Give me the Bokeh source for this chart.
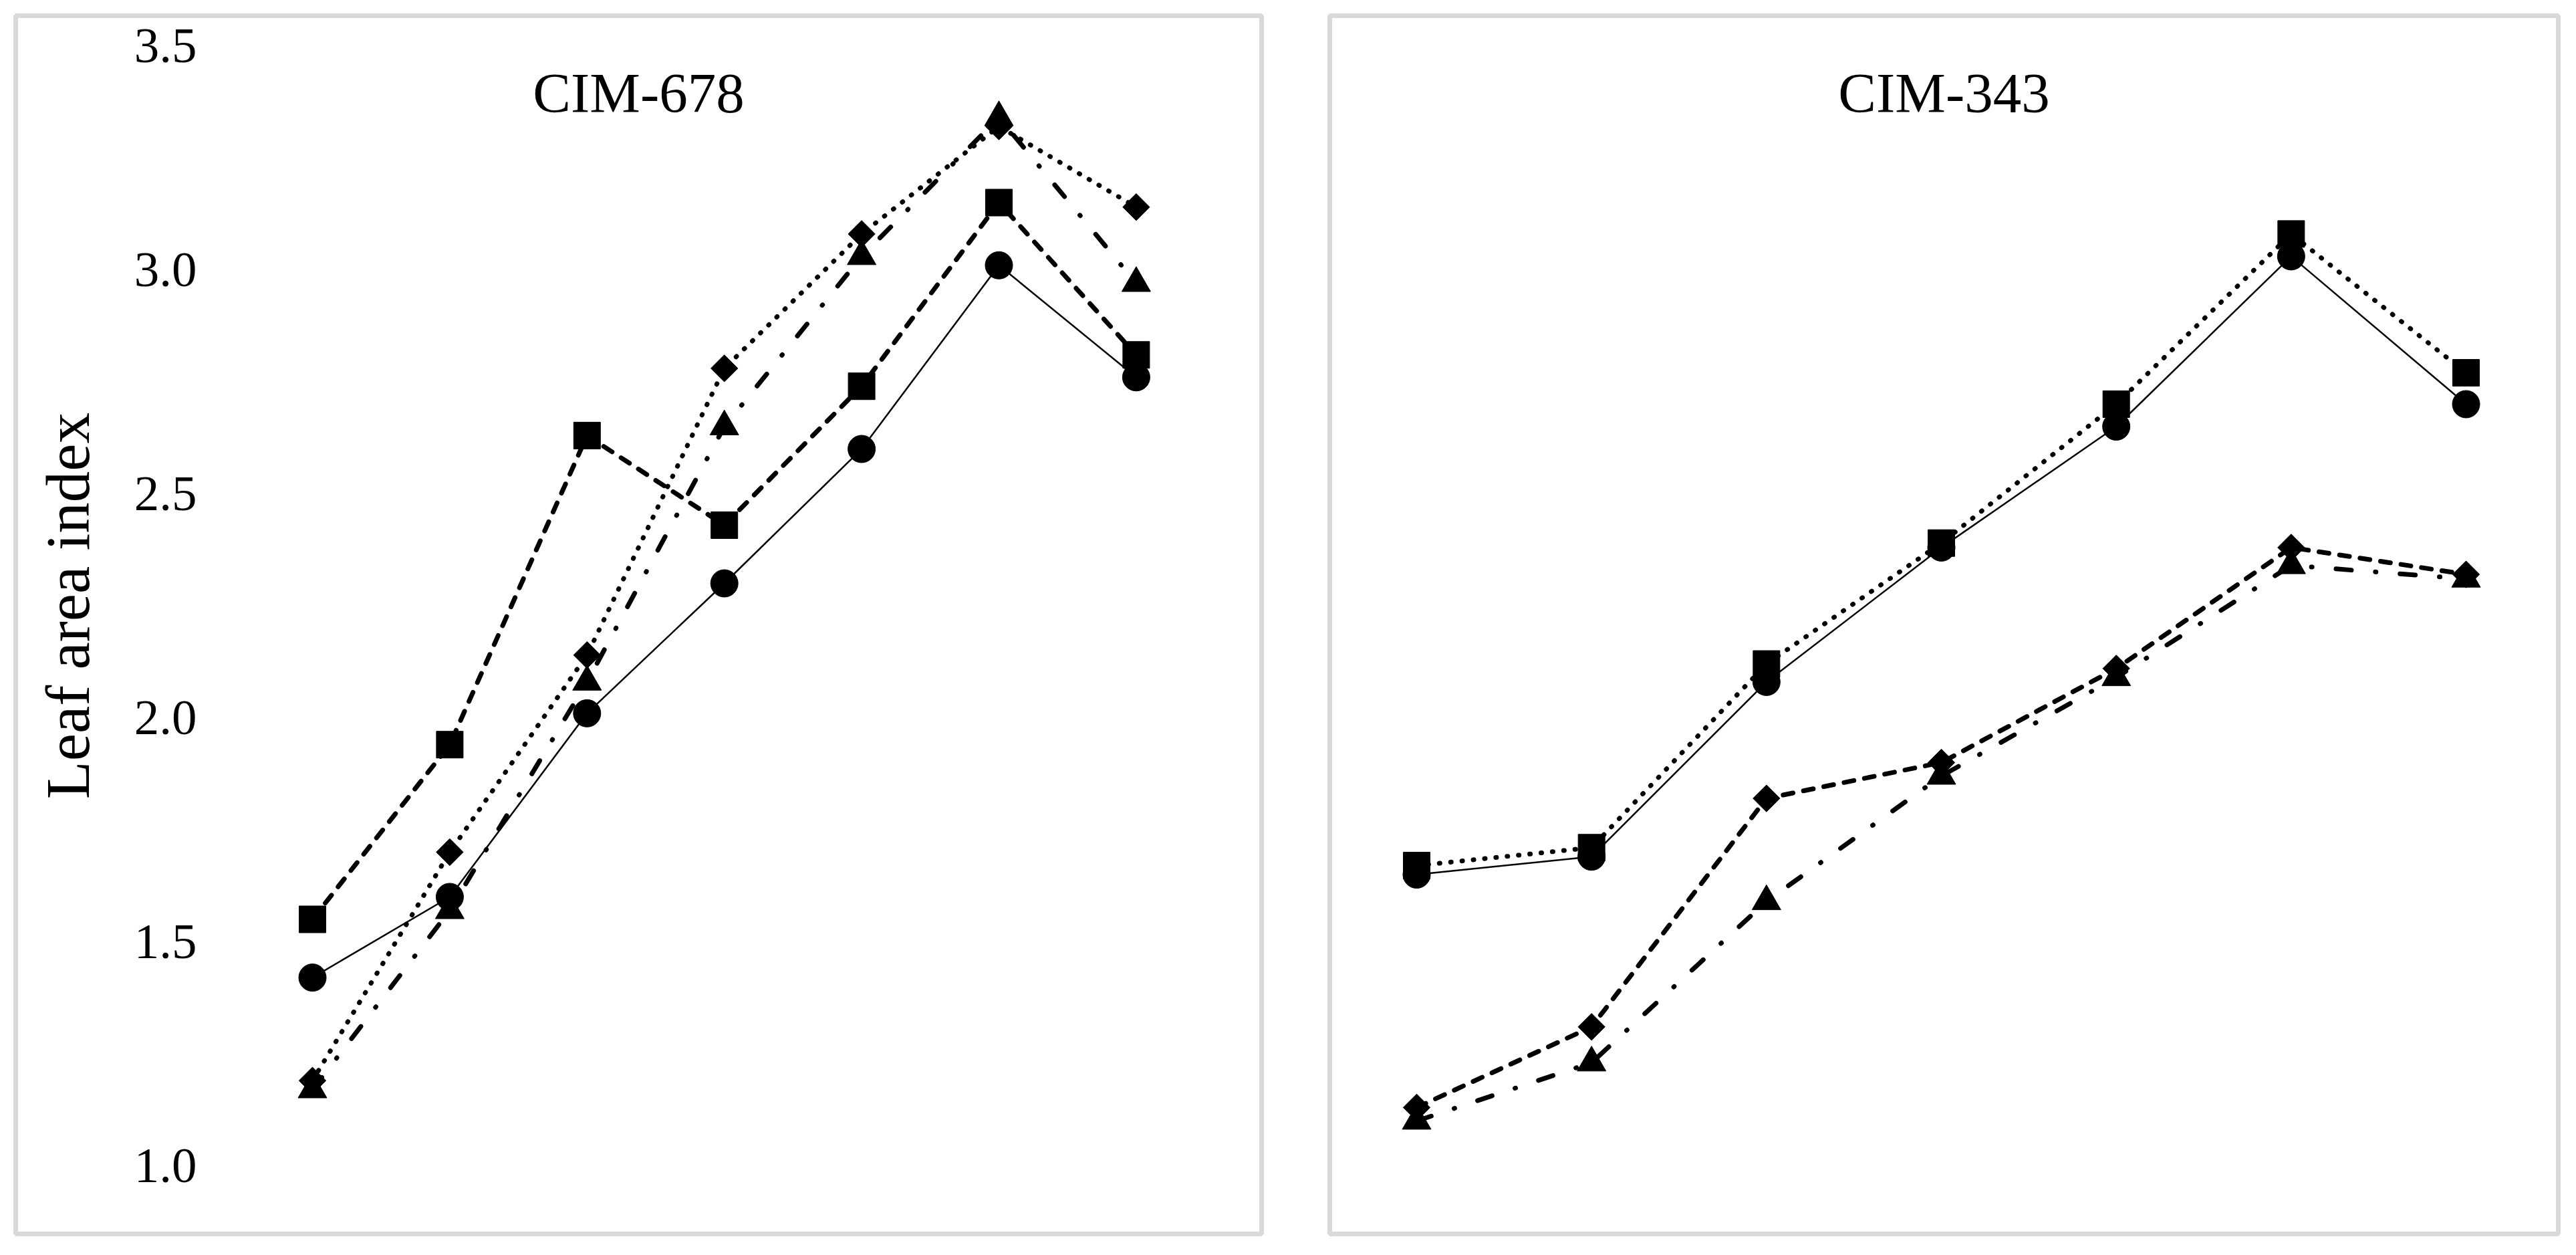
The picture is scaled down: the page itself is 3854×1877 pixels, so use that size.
import math
from bokeh.plotting import figure
from bokeh.layouts import row
from bokeh.models import Range1d, LinearAxis, Label, FixedTicker, NumeralTickFormatter
from bokeh.embed import file_html
from bokeh.resources import INLINE

# ---------------- data ----------------
stages = [1, 2, 3, 4, 5, 6, 7]
y_ticks = [1.0, 1.5, 2.0, 2.5, 3.0, 3.5]
y_label = "Leaf area index"
titles = ["CIM-678", "CIM-343"]

cim678_circle = [1.42, 1.60, 2.01, 2.30, 2.60, 3.01, 2.76]
cim678_square = [1.55, 1.94, 2.63, 2.43, 2.74, 3.15, 2.81]
cim678_diamond = [1.19, 1.70, 2.14, 2.78, 3.08, 3.32, 3.14]
cim678_triangle = [1.17, 1.57, 2.08, 2.65, 3.03, 3.34, 2.97]

cim343_circle = [1.65, 1.69, 2.08, 2.38, 2.65, 3.03, 2.70]
cim343_square = [1.67, 1.71, 2.12, 2.39, 2.70, 3.08, 2.77]
cim343_diamond = [1.13, 1.31, 1.82, 1.90, 2.11, 2.38, 2.32]
cim343_triangle = [1.10, 1.23, 1.59, 1.87, 2.09, 2.34, 2.31]

# ---------------- styles ----------------
FONT = "Liberation Serif"
SOLID = dict(line_width=2.5, line_dash="solid")
DOTTED = dict(line_width=7, line_dash="1 16")
DASHED = dict(line_width=7, line_dash="15 16")
DASHDOT = dict(line_width=7, line_dash="23 36 1 36")

MARK_CIRCLE = dict(marker="circle", size=41, angle=0)
MARK_SQUARE = dict(marker="square", size=40, angle=0)
MARK_DIAMOND = dict(marker="square", size=28.5, angle=math.pi / 4)
MARK_TRIANGLE = dict(marker="triangle", size=43, angle=0)

# ---------------- geometry (page pixels) ----------------
PAGE = 0
FRAME_TOP, FRAME_BOTTOM = 23, 1845
Y_HI_PX, Y_LO_PX = 68, 1743      # pixel rows of 3.5 and 1.0
Y_HI, Y_LO = 3.5, 1.0
TITLE_BASE_PX = 138


def y_range():
    k = (Y_HI - Y_LO) / (Y_LO_PX - Y_HI_PX)
    return Range1d(Y_LO - (FRAME_BOTTOM - Y_LO_PX) * k, Y_HI + (Y_HI_PX - FRAME_TOP) * k)


def make_panel(title, series, canvas_l, canvas_r, frame_l, frame_r, first_px, step_px, with_axis):
    xs = 1 + (frame_l - first_px) / step_px
    xe = 1 + (frame_r - first_px) / step_px
    yr = y_range()
    p = figure(width=canvas_r - canvas_l, height=FRAME_BOTTOM + 5 - PAGE,
               x_range=Range1d(xs, xe), y_range=yr,
               x_axis_location=None, y_axis_location=None,
               toolbar_location=None, output_backend="svg",
               min_border_left=frame_l - canvas_l, min_border_right=canvas_r - frame_r,
               min_border_top=FRAME_TOP - PAGE, min_border_bottom=5)
    p.title.visible = False
    p.xgrid.grid_line_color = None
    p.ygrid.grid_line_color = None
    p.outline_line_color = "#d9d9d9"
    p.outline_line_width = 7
    p.background_fill_color = "white"
    p.border_fill_color = "white"

    for ys, lstyle, mstyle in series:
        p.line(stages, ys, line_color="black", line_cap="round", line_join="round", **lstyle)
    for ys, lstyle, mstyle in series:
        p.scatter(stages, ys, fill_color="black", line_color="black", line_width=1, **mstyle)

    if with_axis:
        axis_px = 300
        ax = LinearAxis(fixed_location=xs + (axis_px - frame_l) / step_px,
                        ticker=FixedTicker(ticks=y_ticks), bounds=(Y_LO, Y_HI),
                        formatter=NumeralTickFormatter(format="0.0"),
                        axis_label=y_label)
        ax.axis_line_color = None
        ax.major_tick_line_color = None
        ax.minor_tick_line_color = None
        ax.major_tick_out = 0
        ax.major_tick_in = 0
        ax.major_label_standoff = 6
        ax.major_label_text_font = FONT
        ax.major_label_text_font_size = "75px"
        ax.major_label_text_color = "black"
        ax.axis_label_text_font = FONT
        ax.axis_label_text_font_size = "93px"
        ax.axis_label_text_font_style = "normal"
        ax.axis_label_text_color = "black"
        ax.axis_label_standoff = 45
        p.add_layout(ax, "left")

    k = (Y_HI - Y_LO) / (Y_LO_PX - Y_HI_PX)
    title_y = Y_HI - (TITLE_BASE_PX - Y_HI_PX) * k
    p.add_layout(Label(x=(xs + xe) / 2, y=title_y, text=title, text_align="center",
                       text_baseline="alphabetic", text_font=FONT,
                       text_font_size="85px", text_color="black"))
    return p


left = make_panel(titles[0],
                  [(cim678_circle, SOLID, MARK_CIRCLE),
                   (cim678_square, DASHED, MARK_SQUARE),
                   (cim678_diamond, DOTTED, MARK_DIAMOND),
                   (cim678_triangle, DASHDOT, MARK_TRIANGLE)],
                  canvas_l=0, canvas_r=1892, frame_l=23, frame_r=1887,
                  first_px=467, step_px=205.4, with_axis=True)

right = make_panel(titles[1],
                   [(cim343_circle, SOLID, MARK_CIRCLE),
                    (cim343_square, DOTTED, MARK_SQUARE),
                    (cim343_diamond, DASHED, MARK_DIAMOND),
                    (cim343_triangle, DASHDOT, MARK_TRIANGLE)],
                   canvas_l=1892, canvas_r=3832, frame_l=1989, frame_r=3827,
                   first_px=2119, step_px=261.67, with_axis=False)

layout = row(left, right, spacing=0)
open("out.html", "w").write(file_html(layout, INLINE))
